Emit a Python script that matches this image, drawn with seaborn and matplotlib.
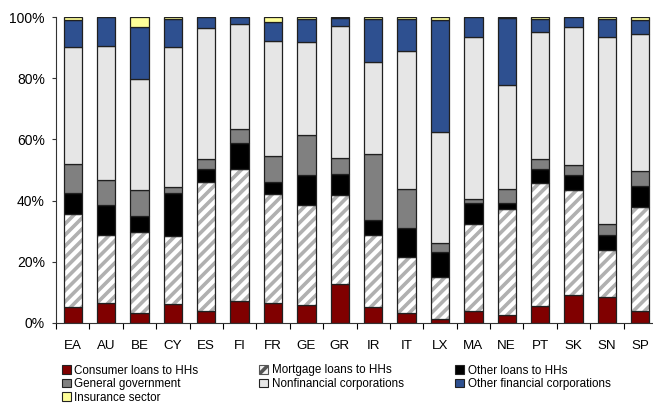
import matplotlib
matplotlib.use("Agg")
import matplotlib.pyplot as plt
import matplotlib.patches as mpatches
import seaborn as sns
import numpy as np
import pandas as pd

countries = ["EA", "AU", "BE", "CY", "ES", "FI", "FR", "GE", "GR", "IR",
             "IT", "LX", "MA", "NE", "PT", "SK", "SN", "SP"]

# cumulative tops (percent)
consumer_top = [5.0, 6.3, 3.1, 6.0, 3.9, 7.0, 6.6, 5.8, 12.6, 5.0,
                3.1, 1.2, 3.7, 2.6, 5.5, 9.1, 8.4, 3.7]
mortgage_top = [35.5, 28.6, 29.6, 28.3, 46.2, 50.3, 42.0, 38.5, 41.8, 28.8,
                21.4, 15.1, 32.2, 37.3, 45.9, 43.6, 23.8, 38.0]
other_hh_top = [42.6, 38.5, 34.9, 42.6, 50.4, 59.0, 46.2, 48.4, 48.6, 33.6,
                31.0, 23.0, 39.1, 39.3, 50.3, 48.4, 28.7, 44.9]
gov_top = [51.9, 46.6, 43.3, 44.4, 53.5, 63.5, 54.7, 61.5, 53.8, 55.3,
           43.9, 26.0, 40.5, 43.8, 53.6, 51.5, 32.4, 49.6]
nfc_top = [90.2, 90.6, 79.9, 90.2, 96.4, 97.7, 92.4, 91.9, 97.2, 85.5,
           89.1, 62.4, 93.4, 77.7, 95.3, 96.9, 93.7, 94.4]
ofc_top = [99.0, 100.0, 96.9, 99.6, 100.0, 100.0, 98.5, 99.6, 99.7, 99.5,
           99.5, 99.1, 100.0, 99.7, 99.6, 100.0, 99.6, 99.1]
ins_top = [100.0] * 18

series_names = ["Consumer loans to HHs", "Mortgage loans to HHs", "Other loans to HHs",
                "General government", "Nonfinancial corporations",
                "Other financial corporations", "Insurance sector"]
tops = [consumer_top, mortgage_top, other_hh_top, gov_top, nfc_top, ofc_top, ins_top]
colors = ["#800000", "#ffffff", "#000000", "#808080", "#e6e6e6", "#2e5090", "#ffff99"]

plt.rcParams["font.family"] = ["Liberation Sans", "DejaVu Sans"]
plt.rcParams["hatch.linewidth"] = 2.6

fig = plt.figure(figsize=(6.53, 4.03), dpi=100)
ax = fig.add_axes([56 / 653, 1 - 322.7 / 403, (657 - 56) / 653, (322.7 - 17.3) / 403])

prev = [0.0] * 18
for name, top, col in zip(series_names, tops, colors):
    heights = [t - p for t, p in zip(top, prev)]
    df = pd.DataFrame({"country": countries, "value": heights})
    if name.startswith("Mortgage"):
        sns.barplot(data=df, x="country", y="value", order=countries, bottom=prev,
                    color="white", width=0.55, edgecolor="#b0b0b0", linewidth=0,
                    hatch="///", ax=ax, saturation=1, errorbar=None)
        sns.barplot(data=df, x="country", y="value", order=countries, bottom=prev,
                    color="#202020", fill=False, width=0.55, edgecolor="#202020",
                    linewidth=0.9, ax=ax, errorbar=None)
    else:
        sns.barplot(data=df, x="country", y="value", order=countries, bottom=prev,
                    color=col, width=0.55, edgecolor="#202020", linewidth=0.9,
                    ax=ax, saturation=1, errorbar=None)
    prev = list(top)

ax.set_xlim(-0.5, 17.5)
ax.set_ylim(0, 100)
ax.set_xlabel("")
ax.set_ylabel("")
ax.set_yticks([0, 20, 40, 60, 80, 100])
ax.set_yticklabels(["0%", "20%", "40%", "60%", "80%", "100%"], fontsize=10)
ax.set_xticks(range(18))
ax.set_xticklabels(countries, fontsize=9.6)
ax.set_xticks(np.arange(-0.5, 18.0, 1.0), minor=True)
ax.tick_params(axis="x", which="major", length=0, pad=12.5)
ax.tick_params(axis="x", which="minor", length=4, width=0.8, direction="out")
ax.tick_params(axis="y", length=3, width=0.8, direction="out", pad=5)
for s in ["top", "right"]:
    ax.spines[s].set_visible(False)
for s in ["left", "bottom"]:
    ax.spines[s].set_linewidth(0.8)
    ax.spines[s].set_color("#333333")
ax.tick_params(colors="#333333", labelcolor="black")
ax.set_facecolor("white")

def handle(i):
    if series_names[i].startswith("Mortgage"):
        return mpatches.Patch(facecolor="#f4f4f4", edgecolor="#555555", hatch="///", linewidth=0.8)
    return mpatches.Patch(facecolor=colors[i], edgecolor="#222222", linewidth=0.8)

col_groups = [[0, 3, 6], [1, 4], [2, 5]]
col_x = [61.5 / 653, 259 / 653, 455 / 653]
for grp, x in zip(col_groups, col_x):
    fig.legend(handles=[handle(i) for i in grp], labels=[series_names[i] for i in grp],
               loc="upper left", bbox_to_anchor=(x, 1 - 364.5 / 403), frameon=False,
               fontsize=8.4, handlelength=0.8, handleheight=0.8, handletextpad=0.3,
               labelspacing=0.13, borderaxespad=0, borderpad=0)

fig.savefig("out.png", dpi=100)
